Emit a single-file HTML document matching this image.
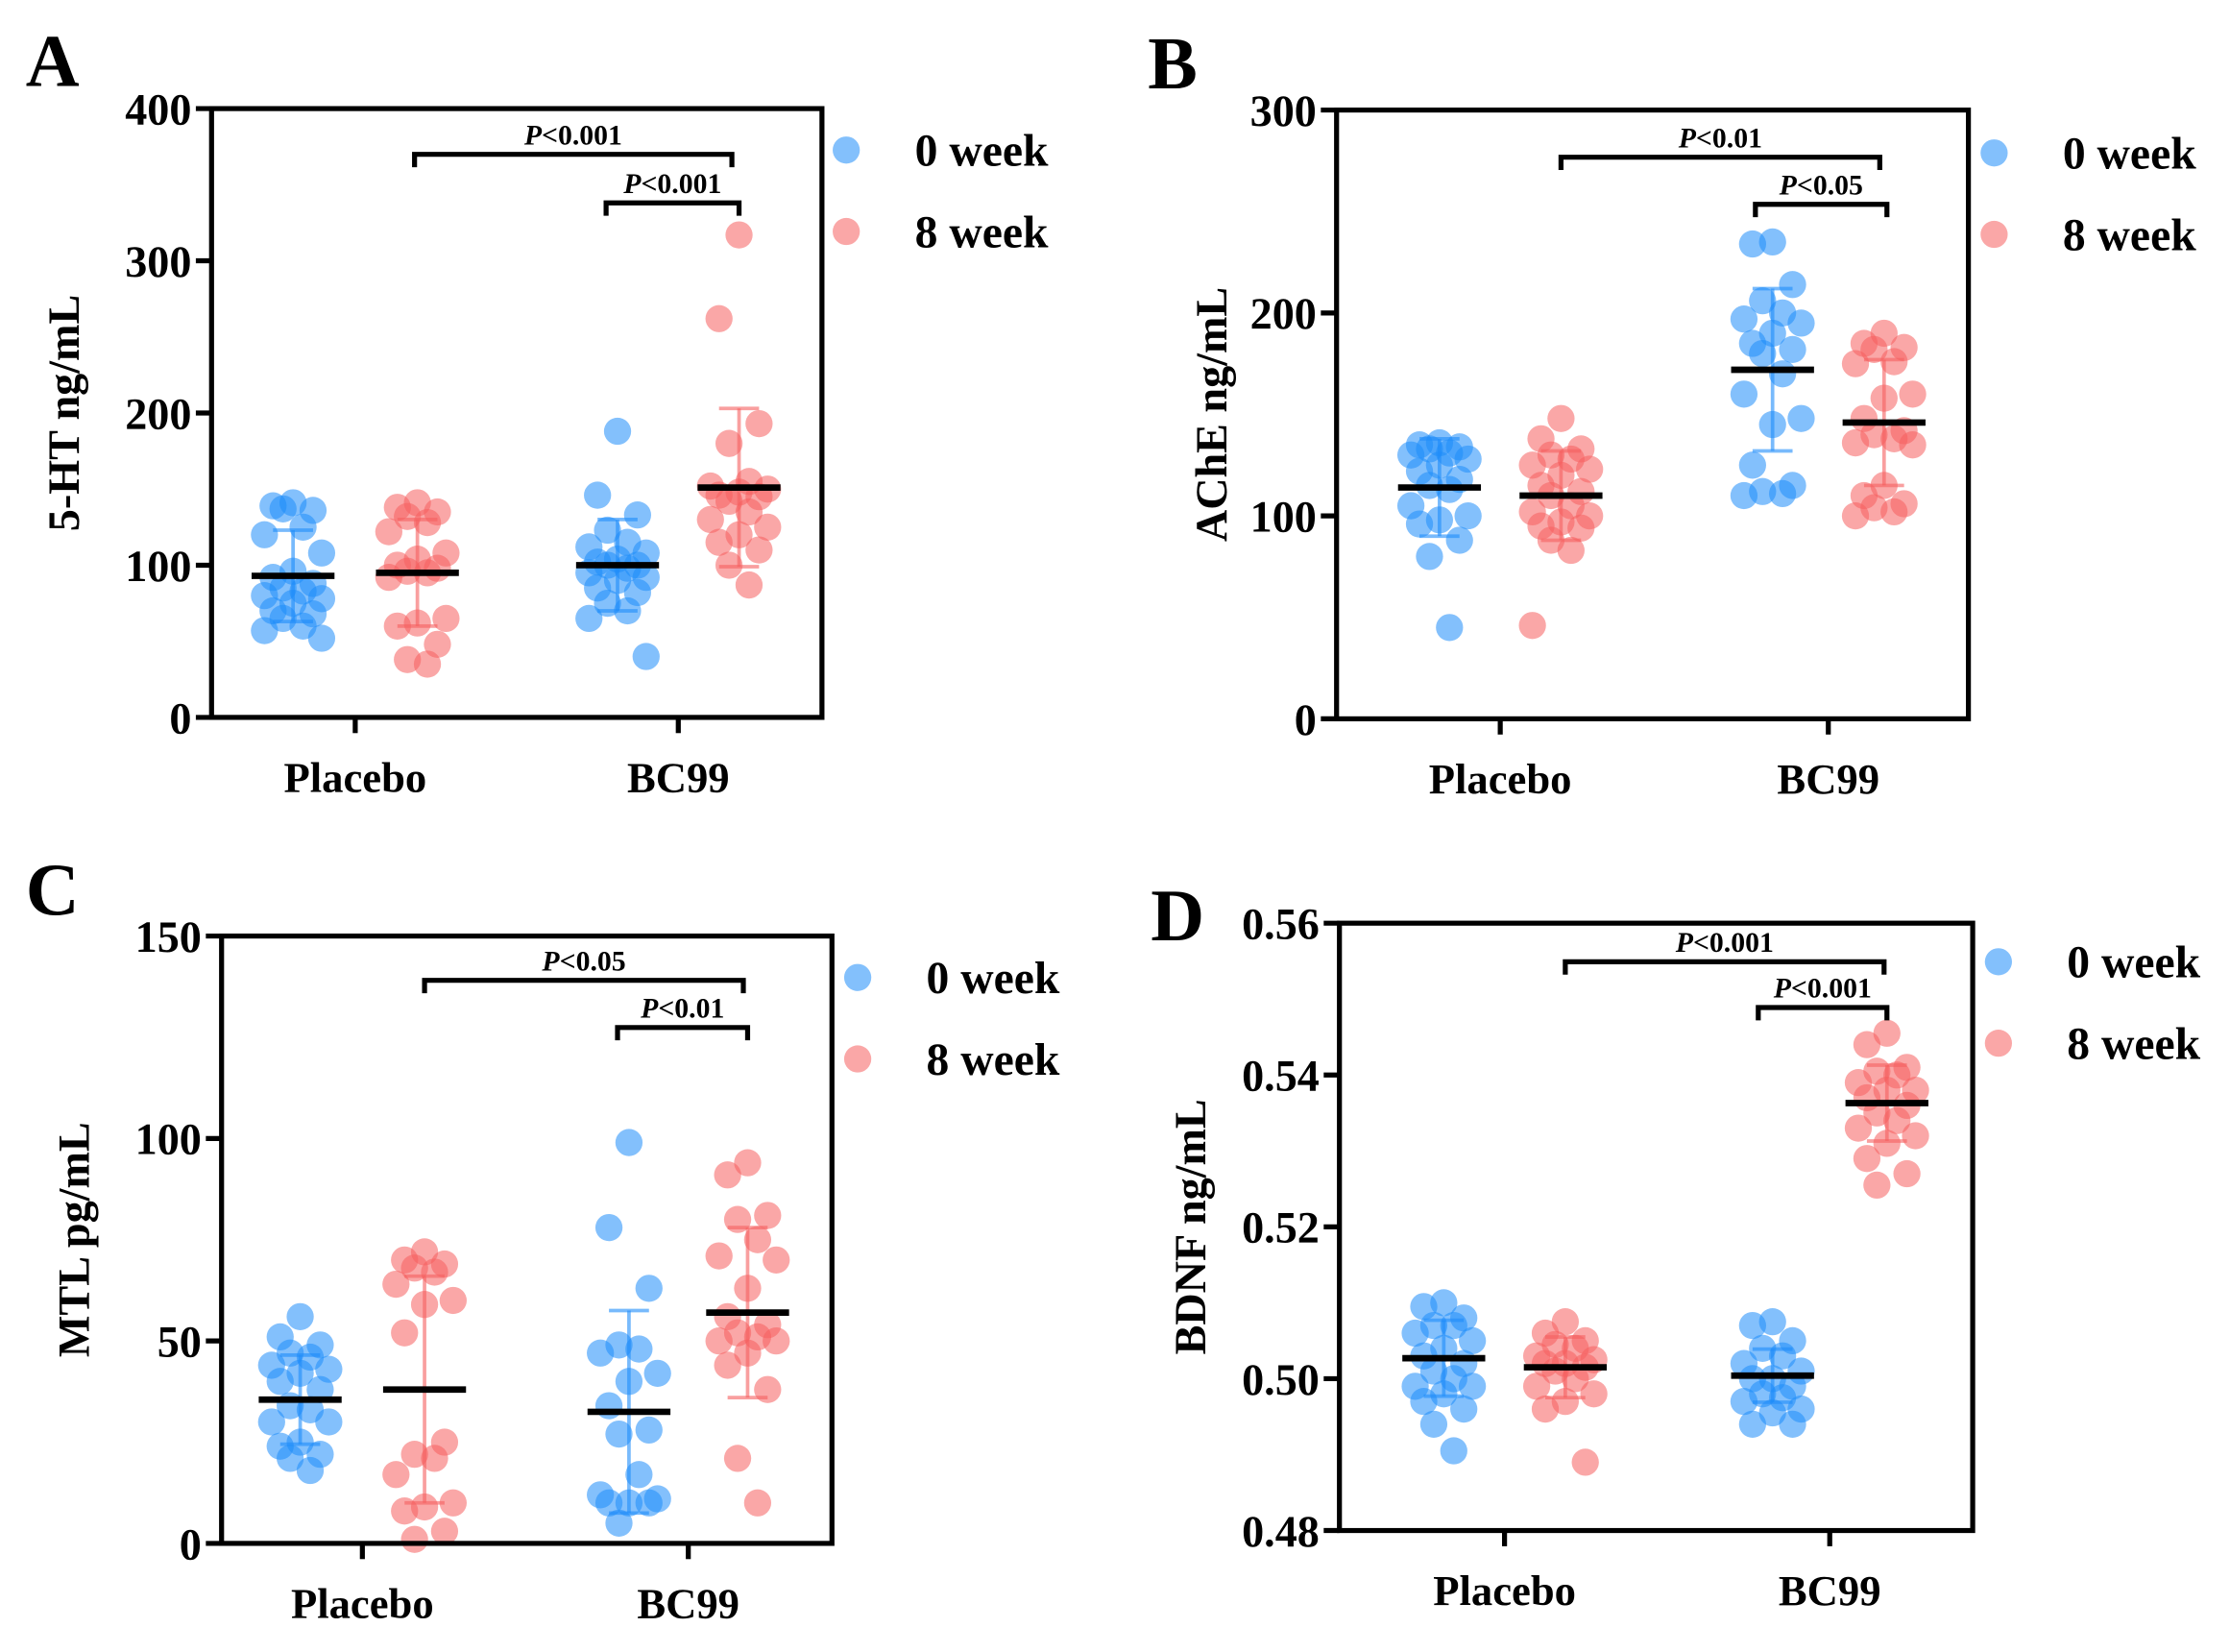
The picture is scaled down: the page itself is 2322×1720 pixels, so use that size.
<!DOCTYPE html>
<html><head><meta charset="utf-8"><style>
html,body{margin:0;padding:0;background:#fff;}
svg{display:block;}
text{font-family:"Liberation Serif",serif;font-weight:bold;fill:#000;}
</style></head><body>
<svg id="fig" width="2322" height="1720" viewBox="0 0 1560 1156" preserveAspectRatio="none" xmlns="http://www.w3.org/2000/svg"></svg>
<script>
// ---- Panel A: 5-HT ----
const catsA=["Placebo","BC99"];
const ticksA=[0,100,200,300,400];
const aP0=[141,139,136,137,125,120,108,96,92,88,85,83,80,78,75,70,68,65,60,57,52];
const aP8=[141,138,135,132,128,122,108,104,100,98,96,95,92,65,62,60,48,38,35];
const aB0=[188,146,133,123,115,112,108,104,102,100,100,98,95,92,90,85,82,75,70,65,40];
const aB8=[317,262,193,180,155,152,150,148,146,145,142,135,130,125,120,115,110,100,87];
const aMean=[93,95,100,151];
const aSD=[30,35,30,52];
// ---- Panel B: AChE ----
const ticksB=[0,100,200,300];
const bP0=[136,135,134,133,131,130,128,125,122,118,115,113,105,100,98,96,88,80,45];
const bP8=[148,138,133,130,128,125,123,120,115,112,110,105,102,100,97,95,94,88,83,46];
const bB0=[235,234,214,206,200,197,195,190,185,182,180,170,160,148,145,125,115,112,111,110];
const bB8=[190,185,183,182,176,175,160,158,148,142,140,138,136,135,115,110,106,104,102,100];
const bMean=[114,110,172,146];
const bSD=[24,22,40,31];
// ---- Panel C: MTL ----
const ticksC=[0,50,100,150];
const cP0=[56,51,49,47,46,44,43,42,40,38,34,33,30,30,25,24,22,21,18];
const cP8=[72,70,69,68,67,64,60,59,52,25,22,21,17,10,9,8,3,1];
const cB0=[99,78,63,49,48,47,42,40,34,28,27,17,12,11,10,10,10,5];
const cB8=[94,91,81,80,75,71,70,63,56,54,52,51,50,50,47,44,38,21,10];
const cMean=[35.5,38,32.5,57];
const cSD=[11,28,25,21];
// ---- Panel D: BDNF ----
const ticksD=[0.48,0.50,0.52,0.54,0.56];
const dP0=[0.510,0.5095,0.508,0.507,0.507,0.506,0.505,0.504,0.503,0.502,0.501,0.500,0.499,0.499,0.498,0.497,0.496,0.494,0.4905];
const dP8=[0.5075,0.506,0.505,0.5045,0.504,0.503,0.5025,0.502,0.502,0.5015,0.501,0.500,0.499,0.498,0.497,0.496,0.489];
const dB0=[0.5075,0.507,0.505,0.504,0.503,0.502,0.501,0.500,0.500,0.499,0.498,0.4975,0.497,0.496,0.4955,0.494,0.494];
const dB8=[0.5455,0.544,0.541,0.5405,0.540,0.539,0.538,0.538,0.537,0.536,0.535,0.534,0.533,0.532,0.531,0.529,0.527,0.5255];
const dMean=[0.5027,0.5015,0.5004,0.5363];
const dSD=[0.005,0.004,0.0035,0.005];

const NS="http://www.w3.org/2000/svg";
const svg=document.getElementById('fig');
function mk(tag,attrs,parent){const e=document.createElementNS(NS,tag);for(const k in attrs)e.setAttribute(k,attrs[k]);(parent||svg).appendChild(e);return e;}
const BLUE="rgb(30,140,250)",RED="rgb(245,95,95)";

function panel(cfg){
  const g=mk('g',{});
  
  
  const {L,R,T,B,min,max}=cfg;
  const y=v=>B-(v-min)/(max-min)*(B-T);
  const lt=mk('text',{x:cfg.letterX,y:cfg.letterY,'font-size':52},g);lt.textContent=cfg.letter;
  
  
  const yt=mk('text',{x:cfg.ytX,y:(T+B)/2,'font-size':31,'text-anchor':'middle',transform:`rotate(-90 ${cfg.ytX} ${(T+B)/2})`},g);yt.textContent=cfg.ytitle;
  
  
  cfg.ticks.forEach(t=>{
    const yy=y(t);
    mk('line',{x1:L-11,x2:L,y1:yy,y2:yy,stroke:'#000','stroke-width':3.5},g);
    const tx=mk('text',{x:L-14,y:yy+11,'font-size':31,'text-anchor':'end'},g);
    tx.textContent=cfg.fmt(t);
    
    
  });
  const catX=[(cfg.gx[0]+cfg.gx[1])/2,(cfg.gx[2]+cfg.gx[3])/2];
  catsA.forEach((c,i)=>{
    mk('line',{x1:catX[i],x2:catX[i],y1:B,y2:B+11,stroke:'#000','stroke-width':3.5},g);
    const ct=mk('text',{x:catX[i],y:B+52,'font-size':30,'text-anchor':'middle'},g);ct.textContent=c;
    
    
  });
  cfg.series.forEach((arr,si)=>{
    const col=si%2===0?BLUE:RED;
    const cx0=cfg.gx[si];
    arr.forEach((v,i)=>{
      const off=[0,-14,14,-7,7,-20,20][i%7];
      const c=mk('circle',{cx:cx0+off,cy:y(v),r:9.5,fill:col,'fill-opacity':0.55},g);
      
      
    });
  });
  cfg.series.forEach((arr,si)=>{
    const col=si%2===0?BLUE:RED;
    const cx0=cfg.gx[si];
    const m=cfg.mean[si],s=cfg.sd[si];
    const eb=mk('g',{stroke:col,'stroke-opacity':0.6,'stroke-width':2.5},g);
    
    
    mk('line',{x1:cx0,x2:cx0,y1:y(m+s),y2:y(m-s)},eb);
    mk('line',{x1:cx0-14,x2:cx0+14,y1:y(m+s),y2:y(m+s)},eb);
    mk('line',{x1:cx0-14,x2:cx0+14,y1:y(m-s),y2:y(m-s)},eb);
    const ml=mk('line',{x1:cx0-29,x2:cx0+29,y1:y(m),y2:y(m),stroke:'#000','stroke-width':4.5},g);
    
    
  });
  const fr=mk('rect',{x:L,y:T,width:R-L,height:B-T,fill:'none',stroke:'#000','stroke-width':3.5},g);
  
  
  cfg.br.forEach(b=>{
    const bg=mk('g',{},g);
    
    
    mk('polyline',{points:`${b[0]},${b[2]+9} ${b[0]},${b[2]} ${b[1]},${b[2]} ${b[1]},${b[2]+9}`,fill:'none',stroke:'#000','stroke-width':3.5},bg);
    const t=mk('text',{x:(b[0]+b[1])/2,y:b[2]-7,'font-size':20,'text-anchor':'middle'},bg);
    t.innerHTML='<tspan font-style="italic">P</tspan>'+b[3].replace('<','&lt;');
  });
  [["0 week",BLUE],["8 week",RED]].forEach((l,i)=>{
    const lg=mk('g',{},g);
    
    
    mk('circle',{cx:cfg.legX,cy:cfg.legY+i*57,r:9.5,fill:l[1],'fill-opacity':0.55},lg);
    const t=mk('text',{x:cfg.legX+48,y:cfg.legY+i*57+11,'font-size':32},lg);t.textContent=l[0];
  });
}
panel({name:'panel-a-5ht',letter:'A',letterX:18,letterY:60,ytitle:'5-HT ng/mL',ytX:55,L:148,R:575,T:76,B:502,min:0,max:400,ticks:ticksA,fmt:t=>t,
  gx:[205,292,432,517],series:[aP0,aP8,aB0,aB8],mean:aMean,sd:aSD,
  br:[[290,512,108,'<0.001'],[424,517,142,'<0.001']],legX:592,legY:105});
panel({name:'panel-b-ache',letter:'B',letterX:803,letterY:62,ytitle:'AChE  ng/mL',ytX:858,L:935,R:1377,T:77,B:503,min:0,max:300,ticks:ticksB,fmt:t=>t,
  gx:[1007,1092,1240,1318],series:[bP0,bP8,bB0,bB8],mean:bMean,sd:bSD,
  br:[[1092,1315,110,'<0.01'],[1228,1320,143,'<0.05']],legX:1395,legY:107});
panel({name:'panel-c-mtl',letter:'C',letterX:18,letterY:640,ytitle:'MTL pg/mL',ytX:62,L:155,R:582,T:655,B:1080,min:0,max:150,ticks:ticksC,fmt:t=>t,
  gx:[210,297,440,523],series:[cP0,cP8,cB0,cB8],mean:cMean,sd:cSD,
  br:[[297,520,686,'<0.05'],[432,523,719,'<0.01']],legX:600,legY:684});
panel({name:'panel-d-bdnf',letter:'D',letterX:805,letterY:658,ytitle:'BDNF ng/mL',ytX:843,L:937,R:1380,T:646,B:1071,min:0.48,max:0.56,ticks:ticksD,fmt:t=>t.toFixed(2),
  gx:[1010,1095,1240,1320],series:[dP0,dP8,dB0,dB8],mean:dMean,sd:dSD,
  br:[[1095,1318,673,'<0.001'],[1230,1320,705,'<0.001']],legX:1398,legY:673});
</script>
</body></html>
